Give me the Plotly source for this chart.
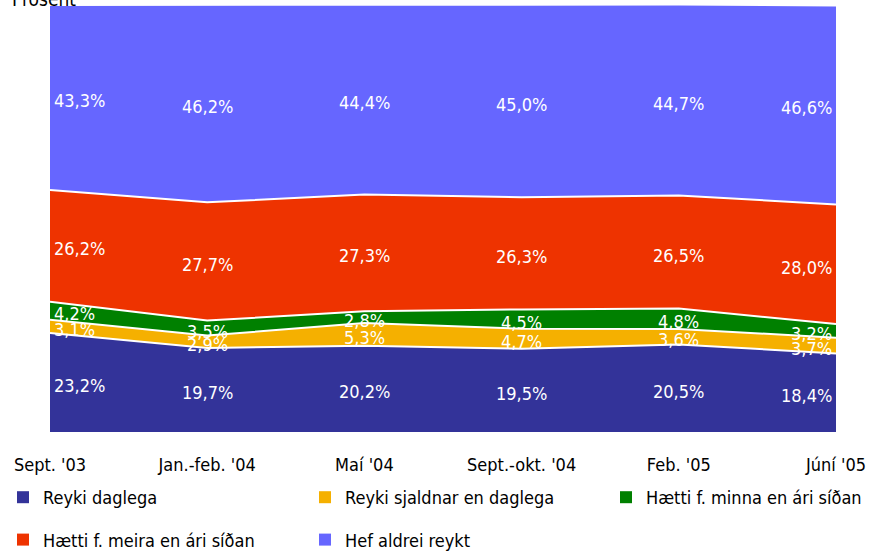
import plotly.graph_objects as go

categories = ["Sept. '03", "Jan.-feb. '04", "Maí '04", "Sept.-okt. '04", "Feb. '05", "Júní '05"]
series_names = ["Reyki daglega", "Reyki sjaldnar en daglega", "Hætti f. minna en ári síðan",
                "Hætti f. meira en ári síðan", "Hef aldrei reykt"]
reyki_daglega = [23.2, 19.7, 20.2, 19.5, 20.5, 18.4]
reyki_sjaldnar = [3.1, 2.9, 5.3, 4.7, 3.6, 3.7]
haetti_minna = [4.2, 3.5, 2.8, 4.5, 4.8, 3.2]
haetti_meira = [26.2, 27.7, 27.3, 26.3, 26.5, 28.0]
hef_aldrei = [43.3, 46.2, 44.4, 45.0, 44.7, 46.6]
colors = ["#333399", "#F5B000", "#008000", "#EE3300", "#6666FF"]

all_series = [reyki_daglega, reyki_sjaldnar, haetti_minna, haetti_meira, hef_aldrei]
legend_ids = ["legend", "legend2", "legend3", "legend", "legend2"]
FONT = "DejaVu Sans Condensed, Liberation Sans Narrow, Arial Narrow, sans-serif"

fig = go.Figure()
for name, vals, col in zip(series_names, all_series, colors):
    fig.add_trace(go.Scatter(x=categories, y=vals, name=name, stackgroup="one",
                             mode="lines", line=dict(color="white", width=2),
                             fillcolor=col, hoverinfo="skip", showlegend=False))

# legend-only entries with square swatches
for k, (name, col, lg) in enumerate(zip(series_names, colors, legend_ids)):
    fig.add_trace(go.Scatter(x=[None], y=[None], name=name, mode="markers",
                             marker=dict(symbol="square", size=12, color=col),
                             legend=lg, legendgroup=f"g{k}", showlegend=True,
                             hoverinfo="skip"))

annotations = []
base = [0.0] * len(categories)
for vals in all_series:
    for i, (c, v) in enumerate(zip(categories, vals)):
        mid = base[i] + v / 2
        xanchor = "center"
        xshift = 0
        if i == 0:
            xanchor = "left"
            xshift = 2
        elif i == len(categories) - 1:
            xanchor = "right"
            xshift = -2
        annotations.append(dict(x=c, y=mid, xref="x", yref="y", text=f"{v:.1f}%".replace(".", ","),
                                showarrow=False, xanchor=xanchor, yanchor="middle",
                                xshift=xshift, yshift=-3,
                                font=dict(color="white", size=18, family=FONT)))
        base[i] += v

annotations.append(dict(x=0, y=1.0, xref="paper", yref="paper", xshift=-40, yshift=-7,
                        text="Prósent", showarrow=False, xanchor="left", yanchor="bottom",
                        font=dict(color="black", size=19, family=FONT)))

legend_common = dict(orientation="v", xref="container", yref="container", yanchor="top",
                     xanchor="left", traceorder="grouped", itemwidth=30,
                     font=dict(size=18, family=FONT, color="black"),
                     tracegroupgap=16, bgcolor="rgba(0,0,0,0)")

fig.update_layout(
    width=883, height=556,
    margin=dict(l=50, r=47, t=5, b=124, autoexpand=False),
    paper_bgcolor="white", plot_bgcolor="white",
    showlegend=True,
    legend=dict(x=3 / 883, y=1 - 479 / 556, **legend_common),
    legend2=dict(x=305 / 883, y=1 - 479 / 556, **legend_common),
    legend3=dict(x=606 / 883, y=1 - 479 / 556, **legend_common),
    xaxis=dict(showgrid=False, showline=False, zeroline=False, ticks="",
               tickfont=dict(size=18, family=FONT, color="black"), ticklabelstandoff=20,
               range=[0, 5]),
    yaxis=dict(range=[0, 100], visible=False),
    annotations=annotations,
)

fig.write_html("out.html", config={"displayModeBar": False},
               post_script="document.body.style.margin='0';")
